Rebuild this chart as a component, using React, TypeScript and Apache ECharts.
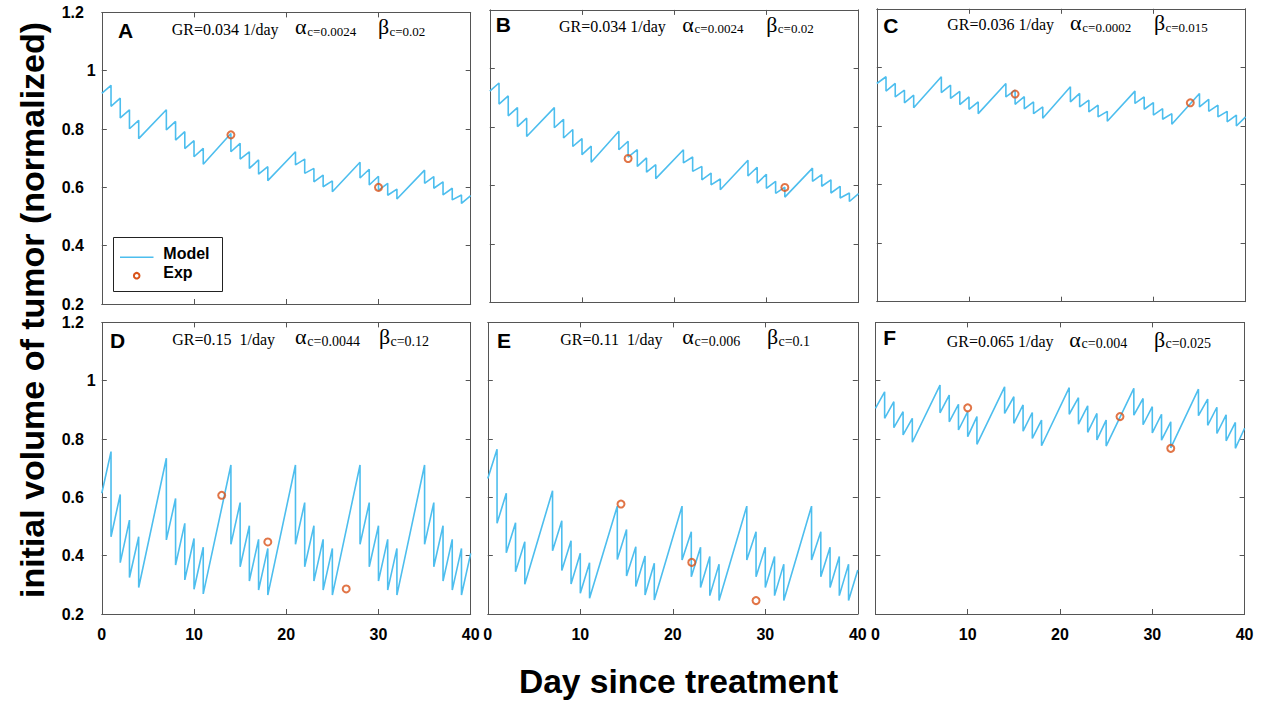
import { useEffect, useRef } from 'react';
import * as echarts from 'echarts';

// ---------------- data ----------------
// treatment days (each gives a vertical drop in the model curve)
const doseDays = [1, 2, 3, 4, 7, 8, 9, 10, 11, 14, 15, 16, 17, 18, 21, 22, 23, 24, 25, 28, 29, 30, 31, 32, 35, 36, 37, 38, 39];
const startDay = 0;
const endDay = 40;

const panelLetters = ['A', 'B', 'C', 'D', 'E', 'F'];
const grLabels = ['GR=0.034 1/day', 'GR=0.034 1/day', 'GR=0.036 1/day', 'GR=0.15  1/day', 'GR=0.11  1/day', 'GR=0.065 1/day'];
const alphaLabels = ['c=0.0024', 'c=0.0024', 'c=0.0002', 'c=0.0044', 'c=0.006', 'c=0.004'];
const betaLabels = ['c=0.02', 'c=0.02', 'c=0.015', 'c=0.12', 'c=0.1', 'c=0.025'];

// Panel A / B model (same parameters)
const startAB = 0.922;
const peaksAB = [0.950, 0.906, 0.866, 0.830, 0.866, 0.826, 0.791, 0.760, 0.734, 0.785, 0.751, 0.722, 0.694, 0.671, 0.722, 0.697, 0.665, 0.642, 0.622, 0.686, 0.662, 0.638, 0.614, 0.594, 0.659, 0.637, 0.619, 0.597, 0.574];
const troughsAB = [0.878, 0.838, 0.801, 0.767, 0.797, 0.762, 0.733, 0.705, 0.679, 0.722, 0.697, 0.665, 0.645, 0.623, 0.677, 0.648, 0.619, 0.602, 0.585, 0.632, 0.608, 0.590, 0.573, 0.560, 0.614, 0.597, 0.574, 0.557, 0.545];
const endAB = 0.572;

// Panel C model
const startC = 0.945;
const peaksC = [0.968, 0.945, 0.922, 0.905, 0.968, 0.939, 0.918, 0.899, 0.882, 0.945, 0.922, 0.900, 0.882, 0.865, 0.934, 0.911, 0.888, 0.871, 0.850, 0.919, 0.899, 0.880, 0.859, 0.842, 0.911, 0.891, 0.871, 0.850, 0.837];
const troughsC = [0.919, 0.899, 0.879, 0.862, 0.914, 0.894, 0.873, 0.857, 0.842, 0.899, 0.874, 0.858, 0.842, 0.826, 0.882, 0.865, 0.848, 0.831, 0.816, 0.877, 0.857, 0.837, 0.823, 0.806, 0.865, 0.850, 0.831, 0.814, 0.800];
const endC = 0.831;

// Panel D model
const startD = 0.614;
const peaksD = [0.757, 0.610, 0.522, 0.465, 0.734, 0.596, 0.511, 0.459, 0.429, 0.711, 0.582, 0.503, 0.456, 0.425, 0.711, 0.582, 0.503, 0.456, 0.425, 0.711, 0.582, 0.503, 0.456, 0.425, 0.711, 0.582, 0.503, 0.456, 0.425];
const troughsD = [0.465, 0.376, 0.325, 0.291, 0.454, 0.368, 0.317, 0.285, 0.269, 0.439, 0.362, 0.313, 0.282, 0.265, 0.439, 0.362, 0.313, 0.282, 0.265, 0.439, 0.362, 0.313, 0.282, 0.265, 0.439, 0.362, 0.313, 0.282, 0.265];
const endD = 0.408;

// Panel E model
const startE = 0.665;
const peaksE = [0.765, 0.614, 0.513, 0.448, 0.623, 0.520, 0.451, 0.408, 0.376, 0.570, 0.490, 0.431, 0.399, 0.374, 0.570, 0.482, 0.429, 0.397, 0.371, 0.570, 0.482, 0.429, 0.397, 0.371, 0.570, 0.482, 0.429, 0.397, 0.371];
const troughsE = [0.511, 0.410, 0.345, 0.302, 0.417, 0.349, 0.303, 0.271, 0.254, 0.387, 0.330, 0.294, 0.265, 0.248, 0.385, 0.328, 0.291, 0.263, 0.246, 0.385, 0.328, 0.291, 0.263, 0.246, 0.385, 0.328, 0.291, 0.263, 0.246];
const endE = 0.351;

// Panel F model
const startF = 0.905;
const peaksF = [0.962, 0.928, 0.894, 0.871, 0.985, 0.951, 0.919, 0.894, 0.877, 0.979, 0.945, 0.917, 0.891, 0.865, 0.976, 0.942, 0.914, 0.888, 0.865, 0.974, 0.939, 0.911, 0.885, 0.859, 0.971, 0.937, 0.909, 0.883, 0.857];
const troughsF = [0.871, 0.839, 0.814, 0.789, 0.890, 0.859, 0.831, 0.808, 0.782, 0.888, 0.854, 0.827, 0.802, 0.777, 0.885, 0.851, 0.823, 0.797, 0.776, 0.882, 0.849, 0.821, 0.796, 0.770, 0.880, 0.847, 0.819, 0.794, 0.768];
const endF = 0.837;

// Experimental points
const expDaysA = [14, 30];
const expValsA = [0.78, 0.60];
const expDaysB = [15, 32];
const expValsB = [0.692, 0.593];
const expDaysC = [15, 34];
const expValsC = [0.909, 0.879];
const expDaysD = [13, 18, 26.5];
const expValsD = [0.607, 0.447, 0.286];
const expDaysE = [14.4, 22.05, 29];
const expValsE = [0.577, 0.377, 0.246];
const expDaysF = [10, 26.5, 32];
const expValsF = [0.907, 0.877, 0.768];

const xTicks = [0, 10, 20, 30, 40];
const yMin = 0.2;
const yMax = 1.2;
const yStep = 0.2;

const yTitle = 'initial volume of tumor (normalized)';
const xTitle = 'Day since treatment';
const legendNames = ['Model', 'Exp'];

// ---------------- layout ----------------
const gridLayout = [
  { left: 101.8, top: 12.4, width: 368.9, height: 291.6 },
  { left: 489.8, top: 9.9, width: 368.8, height: 292.5 },
  { left: 876.8, top: 8.8, width: 368.8, height: 292.9 },
  { left: 101.8, top: 322.4, width: 368.9, height: 291.6 },
  { left: 487.8, top: 322.4, width: 370, height: 291.6 },
  { left: 875.4, top: 322.4, width: 369.2, height: 291.6 },
];
// x positions of letter, GR text, alpha, beta; baseline of text; centre of letter
const textLayout = [
  { lx: 118, ly: 30.5, gx: 171.7, ax: 295, bx: 378, base: 34.3 },
  { lx: 495.7, ly: 24.7, gx: 559, ax: 682.3, bx: 766.3, base: 31.7 },
  { lx: 883.3, ly: 25.8, gx: 947.3, ax: 1070, bx: 1154, base: 30 },
  { lx: 110, ly: 340, gx: 172.3, ax: 295, bx: 379, base: 344.3 },
  { lx: 497, ly: 340.5, gx: 560.3, ax: 682.3, bx: 767, base: 344.3 },
  { lx: 883.3, ly: 337.5, gx: 946.7, ax: 1069.3, bx: 1154, base: 346.7 },
];

const LINE_COLOR = '#4DBEEE';
const EXP_COLOR = '#D95319';
const AXIS_COLOR = '#555';
const SANS = 'Liberation Sans, Arial, sans-serif';
const SERIF = 'Liberation Serif, Times New Roman, serif';

type Model = { start: number; peaks: number[]; troughs: number[]; end: number };
const models: Model[] = [
  { start: startAB, peaks: peaksAB, troughs: troughsAB, end: endAB },
  { start: startAB, peaks: peaksAB, troughs: troughsAB, end: endAB },
  { start: startC, peaks: peaksC, troughs: troughsC, end: endC },
  { start: startD, peaks: peaksD, troughs: troughsD, end: endD },
  { start: startE, peaks: peaksE, troughs: troughsE, end: endE },
  { start: startF, peaks: peaksF, troughs: troughsF, end: endF },
];
const exps = [
  [expDaysA, expValsA],
  [expDaysB, expValsB],
  [expDaysC, expValsC],
  [expDaysD, expValsD],
  [expDaysE, expValsE],
  [expDaysF, expValsF],
];

function buildModel(m: Model): number[][] {
  const pts: number[][] = [[startDay, m.start]];
  doseDays.forEach((d, k) => {
    pts.push([d, m.peaks[k]]);
    pts.push([d, m.troughs[k]]);
  });
  pts.push([endDay, m.end]);
  return pts;
}

function txt(x: number, y: number, text: string, fontSize: number, fontFamily: string, fontWeight: string = 'normal', extra: any = {}) {
  return {
    type: 'text',
    x,
    y,
    silent: true,
    ...extra,
    style: {
      text,
      fill: '#000',
      fontSize,
      fontFamily,
      fontWeight,
      align: 'left',
      textAlign: 'left',
      verticalAlign: 'middle',
      textVerticalAlign: 'middle',
      ...(extra.style || {}),
    },
  };
}

export default function App() {
  const ref = useRef<HTMLDivElement>(null);
  useEffect(() => {
    if (!ref.current) return;
    const chart = echarts.init(ref.current, null, { renderer: 'svg' });
    const grids: any[] = [];
    const xAxes: any[] = [];
    const yAxes: any[] = [];
    const series: any[] = [];
    const graphics: any[] = [];

    const axisCommon = {
      axisLine: { show: true, onZero: false, lineStyle: { color: AXIS_COLOR, width: 1 } },
      axisTick: { show: true, inside: true, length: 5, lineStyle: { color: AXIS_COLOR, width: 1 } },
      splitLine: { show: false },
    };

    panelLetters.forEach((letter, i) => {
      grids.push({ ...gridLayout[i], show: false });
      const isBottom = i >= 3;
      const isLeft = i % 3 === 0;
      const xLabel = { show: isBottom, fontSize: 16, fontWeight: 'bold', fontFamily: SANS, color: '#000', margin: 12 };
      const yLabel = {
        show: isLeft,
        fontSize: 16,
        fontWeight: 'bold',
        fontFamily: SANS,
        color: '#000',
        margin: 29,
        align: 'center',
        formatter: (v: number) => (Math.abs(v - 1) < 1e-9 ? '{one|1}' : '{n|' + String(Math.round(v * 10) / 10) + '}'),
        rich: {
          n: { fontSize: 16, fontWeight: 'bold', fontFamily: SANS, color: '#000' },
          one: { fontSize: 16, fontWeight: 'bold', fontFamily: SANS, color: '#000', padding: [0, 0, 0, 37] },
        },
      };
      xAxes.push({ type: 'value', gridIndex: i, min: xTicks[0], max: xTicks[xTicks.length - 1], interval: xTicks[1] - xTicks[0], position: 'bottom', ...axisCommon, axisLabel: xLabel });
      xAxes.push({ type: 'value', gridIndex: i, min: xTicks[0], max: xTicks[xTicks.length - 1], interval: xTicks[1] - xTicks[0], position: 'top', ...axisCommon, axisLabel: { show: false } });
      yAxes.push({ type: 'value', gridIndex: i, min: yMin, max: yMax, interval: yStep, position: 'left', ...axisCommon, axisLabel: yLabel });
      yAxes.push({ type: 'value', gridIndex: i, min: yMin, max: yMax, interval: yStep, position: 'right', ...axisCommon, axisLabel: { show: false } });

      series.push({
        name: legendNames[0],
        type: 'line',
        xAxisIndex: 2 * i,
        yAxisIndex: 2 * i,
        data: buildModel(models[i]),
        symbol: 'none',
        showSymbol: false,
        lineStyle: { color: LINE_COLOR, width: 1.6 },
        itemStyle: { color: LINE_COLOR },
        silent: true,
        z: 2,
      });
      const [ex, ey] = exps[i];
      series.push({
        name: legendNames[1],
        type: 'scatter',
        xAxisIndex: 2 * i,
        yAxisIndex: 2 * i,
        data: ex.map((x, k) => [x, ey[k]]),
        symbol: 'circle',
        symbolSize: 7,
        itemStyle: { color: 'rgba(255,255,255,0)', borderColor: EXP_COLOR, borderWidth: 2 },
        silent: true,
        z: 3,
      });

      const t = textLayout[i];
      const subSize = isBottom ? 14 : 13;
      graphics.push(txt(t.lx, t.ly, letter, 21, SANS, 'bold'));
      graphics.push(txt(t.gx, t.base - 5.3, grLabels[i], 16, SERIF));
      graphics.push(txt(t.ax, t.base - 7.4, 'α', 22, SERIF));
      graphics.push(txt(t.ax + 12.3, t.base + 1.4 - 0.33 * subSize, alphaLabels[i], subSize, SERIF));
      graphics.push(txt(t.bx, t.base - 7.4, 'β', 22, SERIF));
      graphics.push(txt(t.bx + 11.5, t.base + 1.4 - 0.33 * subSize, betaLabels[i], subSize, SERIF));
    });

    // legend box (panel A)
    graphics.push({
      type: 'rect',
      shape: { x: 113.5, y: 237.5, width: 109, height: 54 },
      style: { fill: '#fff', stroke: '#222', lineWidth: 1 },
      z: 10,
      silent: true,
    });
    graphics.push({
      type: 'line',
      shape: { x1: 120, y1: 257.3, x2: 153.5, y2: 257.3 },
      style: { stroke: LINE_COLOR, lineWidth: 1.6 },
      z: 11,
      silent: true,
    });
    graphics.push({
      type: 'circle',
      shape: { cx: 136.7, cy: 275.7, r: 2.8 },
      style: { fill: 'rgba(255,255,255,0)', stroke: EXP_COLOR, lineWidth: 2 },
      z: 11,
      silent: true,
    });
    graphics.push(txt(163.3, 253.5, legendNames[0], 16, SANS, 'bold', { z: 11 }));
    graphics.push(txt(163.3, 272, legendNames[1], 16, SANS, 'bold', { z: 11 }));

    // axis titles
    graphics.push(txt(32, 310, yTitle, 34, SANS, 'bold', { rotation: Math.PI / 2, style: { align: 'center', textAlign: 'center' } }));
    graphics.push(txt(678.5, 681, xTitle, 33.6, SANS, 'bold', { style: { align: 'center', textAlign: 'center' } }));

    chart.setOption({
      animation: false,
      backgroundColor: '#fff',
      grid: grids,
      xAxis: xAxes,
      yAxis: yAxes,
      series,
      graphic: { elements: graphics },
    });
    return () => chart.dispose();
  }, []);
  return <div ref={ref} style={{ position: 'absolute', left: 0, top: 0, width: 1266, height: 702 }} />;
}
